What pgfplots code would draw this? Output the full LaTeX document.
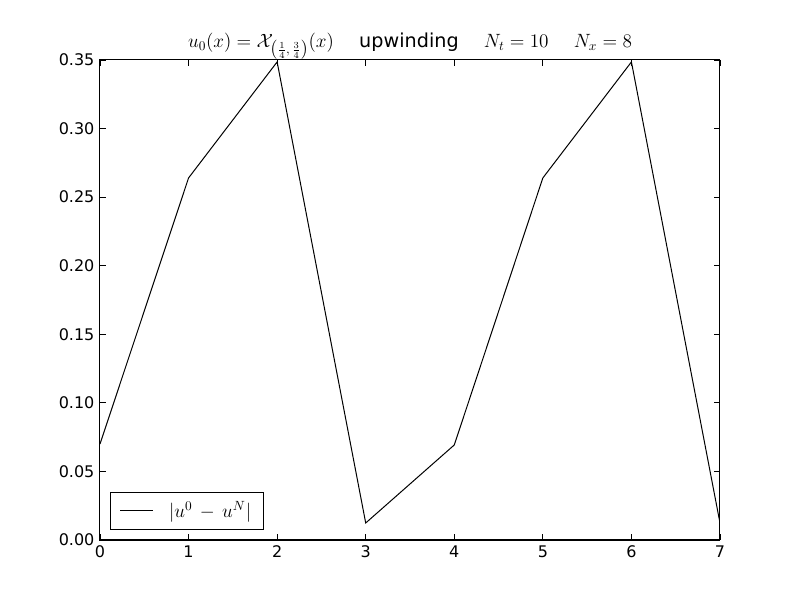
\documentclass[border=0pt,12pt]{standalone}
\usepackage{pgfplots}
\pgfplotsset{compat=1.18}
\usepackage{fontspec}
\setmainfont{DejaVu Sans}
\begin{document}
\begin{tikzpicture}
\path[use as bounding box] (-75pt,-45pt) rectangle (525pt,405pt);
\begin{axis}[
  at={(0,0)}, anchor=south west,
  scale only axis, width=465pt, height=360pt,
  xmin=0, xmax=7, ymin=0, ymax=0.35,
  xtick={0,1,2,3,4,5,6,7},
  ytick={0,0.05,0.10,0.15,0.20,0.25,0.30,0.35},
  yticklabel style={/pgf/number format/.cd, fixed, fixed zerofill, precision=2},
  /pgf/number format/assume math mode=true,
  tick align=inside,
  major tick length=4.2pt,
  tick style={black, line width=0.6pt},
  axis line style={line width=0.75pt},
  minor tick num=0,
  ticklabel style={font=\normalsize},
  title={$u_0(x)=\mathcal{X}_{\left(\frac{1}{4},\,\frac{3}{4}\right)}(x)$\quad\ upwinding\quad\ $N_t=10$\quad\ $N_x=8$},
  title style={font=\large, yshift=-10pt},
  legend style={at={(0.016,0.021)}, anchor=south west, draw=black, line width=0.75pt, sharp corners, font=\large, inner xsep=7pt, inner ysep=5pt},
  legend cell align=left,
  legend image code/.code={\draw[#1, line width=0.75pt] (0cm,0cm) -- (0.85cm,0cm);},
]
\addplot[black, line width=0.75pt, mark=none] coordinates {
(0,0.0700) (1,0.2640) (2,0.3486) (3,0.0124) (4,0.0693) (5,0.2640) (6,0.3486) (7,0.0124)
};
\addlegendentry{\hspace{10pt}$|u^0\mskip3mu-\mskip3mu u^N|$}
\end{axis}
\end{tikzpicture}
\end{document}
